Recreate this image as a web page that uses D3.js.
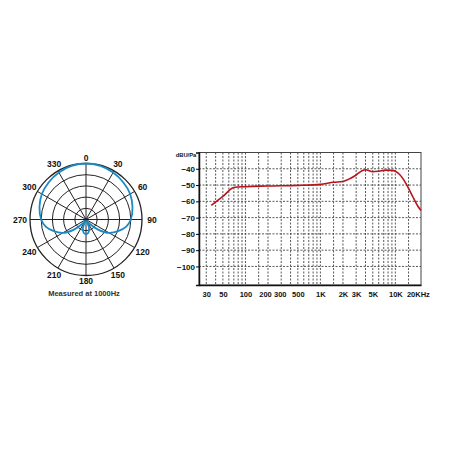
<!DOCTYPE html>
<meta charset="utf-8">
<script src="https://d3js.org/d3.v7.min.js"></script>
<style>
  body { margin: 0; background: #fff; }
  text { font-family: "Liberation Sans", Arial, sans-serif; font-weight: bold; fill: #111; }
</style>
<div id="chart"></div>
<script>

// ---- polar pattern (level in dB, outer ring = 0 dB, 5 dB per ring) ----
var polarAngles = [0, 15, 30, 45, 60, 75, 90, 100, 110, 120, 130, 140, 150, 160, 170, 180,
                   190, 200, 210, 220, 230, 240, 250, 260, 270, 285, 300, 315, 330, 345];
var polarLevels = [0, -0.25, -0.75, -1.5, -2.25, -3.5, -5, -6.75, -9.75, -13, -18, -22.5, -24.25, -21, -19, -18.5,
                   -19, -21, -24.25, -22.5, -18, -13, -9.75, -6.75, -5, -3.5, -2.25, -1.5, -0.75, -0.25];
var polarRings = [0, -5, -10, -15, -20];
var polarSpokes = [0, 30, 60, 90, 120, 150, 180, 210, 240, 270, 300, 330];

// ---- frequency response ----
var respFreq = [35, 50, 70, 100, 200, 500, 1000, 1500, 2000, 2500, 3000, 3600, 4000, 5000, 6000, 7500, 9000, 10000, 11500, 14000, 17000, 20000, 22000];
var respDb   = [-62.5, -57, -51.5, -51, -50.6, -50.2, -49.6, -48.3, -47.8, -46, -43.8, -41.2, -40.6, -41.8, -41.5, -40.8, -41, -41.5, -43.7, -49.4, -57, -63, -65.6];
var freqTicks  = [30, 50, 100, 200, 300, 500, 1000, 2000, 3000, 5000, 10000, 20000];
var freqLabels = ["30", "50", "100", "200", "300", "500", "1K", "2K", "3K", "5K", "10K", "20KHz"];
var freqGrid = [30, 40, 50, 60, 70, 80, 90, 100, 150, 200, 300, 400, 500, 600, 700, 800, 900, 1000,
                1500, 2000, 3000, 4000, 5000, 6000, 7000, 8000, 9000, 10000, 15000];
var dbTicks = [-40, -50, -60, -70, -80, -90, -100];

var svg = d3.select("#chart").append("svg")
  .attr("width", 450)
  .attr("height", 450);

// ================= polar plot =================
var cx = 86, cy = 219.5;
var r = d3.scaleLinear().domain([-25, 0]).range([0, 56]);
var polar = svg.append("g").attr("transform", "translate(" + cx + "," + cy + ")");

polar.selectAll(".ring")
  .data(polarRings)
  .enter().append("circle")
    .attr("r", function(d) { return r(d); })
    .style("fill", "none")
    .style("stroke", "#222")
    .style("stroke-width", function(d, i) { return i == 0 ? 1.3 : 1; });

polar.selectAll(".spoke")
  .data(polarSpokes)
  .enter().append("line")
    .attr("x1", 0).attr("y1", 0)
    .attr("x2", function(d) { return r(0) * Math.sin(d * Math.PI / 180); })
    .attr("y2", function(d) { return -r(0) * Math.cos(d * Math.PI / 180); })
    .style("stroke", "#222")
    .style("stroke-width", 1);

var radial = d3.lineRadial()
  .angle(function(d, i) { return polarAngles[i] * Math.PI / 180; })
  .radius(function(d) { return r(d); })
  .curve(d3.curveCatmullRomClosed);

polar.append("path")
  .datum(polarLevels)
  .attr("d", radial)
  .style("fill", "none")
  .style("stroke", "#1b8ac4")
  .style("stroke-width", 1.8);

polar.selectAll(".alabel")
  .data(polarSpokes)
  .enter().append("text")
    .attr("x", function(d) { var a = d * Math.PI / 180; return (61.5 + 4.5 * Math.abs(Math.sin(a))) * Math.sin(a); })
    .attr("y", function(d) { var a = d * Math.PI / 180; return -(61.5 + 4.5 * Math.abs(Math.sin(a))) * Math.cos(a); })
    .attr("text-anchor", "middle")
    .attr("dominant-baseline", "central")
    .style("font-size", "8.5px")
    .text(function(d) { return d; });

svg.append("text")
  .attr("x", 84).attr("y", 296)
  .attr("text-anchor", "middle")
  .style("font-size", "7.5px")
  .style("fill", "#333")
  .text("Measured at 1000Hz");

// ================= frequency response =================
var x = d3.scaleLog().domain([24, 22000]).range([199, 421]);
var y = d3.scaleLinear().domain([-30, -111.4]).range([152.5, 285]);

// grid
svg.append("g").selectAll("line")
  .data(freqGrid)
  .enter().append("line")
    .attr("x1", function(d) { return x(d); }).attr("x2", function(d) { return x(d); })
    .attr("y1", y(-30)).attr("y2", y(-111.4))
    .style("stroke", "#444")
    .style("stroke-width", 0.9)
    .style("stroke-dasharray", "2,1.5");

svg.append("g").selectAll("line")
  .data(dbTicks)
  .enter().append("line")
    .attr("x1", x(24)).attr("x2", x(22000))
    .attr("y1", function(d) { return y(d); }).attr("y2", function(d) { return y(d); })
    .style("stroke", "#444")
    .style("stroke-width", 0.9)
    .style("stroke-dasharray", "2,1.5");

// frame
svg.append("rect")
  .attr("x", x(24)).attr("y", y(-30))
  .attr("width", x(22000) - x(24)).attr("height", y(-111.4) - y(-30))
  .style("fill", "none")
  .style("stroke", "#444")
  .style("stroke-width", 1);

// y axis
var yAxis = svg.append("g")
  .attr("transform", "translate(" + x(24) + ",0)")
  .call(d3.axisLeft(y).tickValues(dbTicks).tickSize(3).tickPadding(1));
yAxis.select(".domain").style("stroke", "#111").style("stroke-width", 1.5);
yAxis.selectAll("text").style("font-size", "8px").style("font-family", null);

// x axis
var xAxis = svg.append("g")
  .attr("transform", "translate(0," + y(-111.4) + ")")
  .call(d3.axisBottom(x).tickValues(freqTicks).tickSize(0).tickPadding(7)
    .tickFormat(function(d, i) { return freqLabels[i]; }));
xAxis.select(".domain").style("stroke", "#111").style("stroke-width", 1.5);
xAxis.selectAll("text").style("font-size", "7.5px").style("font-family", null)
  // the original prints 200 and 300 a little left of their lines
  .attr("dx", function(d) { return d == 200 ? -3 : (d == 300 ? -1.5 : 0); });

svg.append("text")
  .attr("x", 186).attr("y", 157)
  .attr("text-anchor", "middle")
  .style("font-size", "5.8px")
  .text("dBU/Pa");

// response curve
var line = d3.line()
  .x(function(d, i) { return x(respFreq[i]); })
  .y(function(d) { return y(d); })
  .curve(d3.curveMonotoneX);

svg.append("path")
  .datum(respDb)
  .attr("d", line)
  .style("fill", "none")
  .style("stroke", "#b8141c")
  .style("stroke-width", 1.6);

</script>
